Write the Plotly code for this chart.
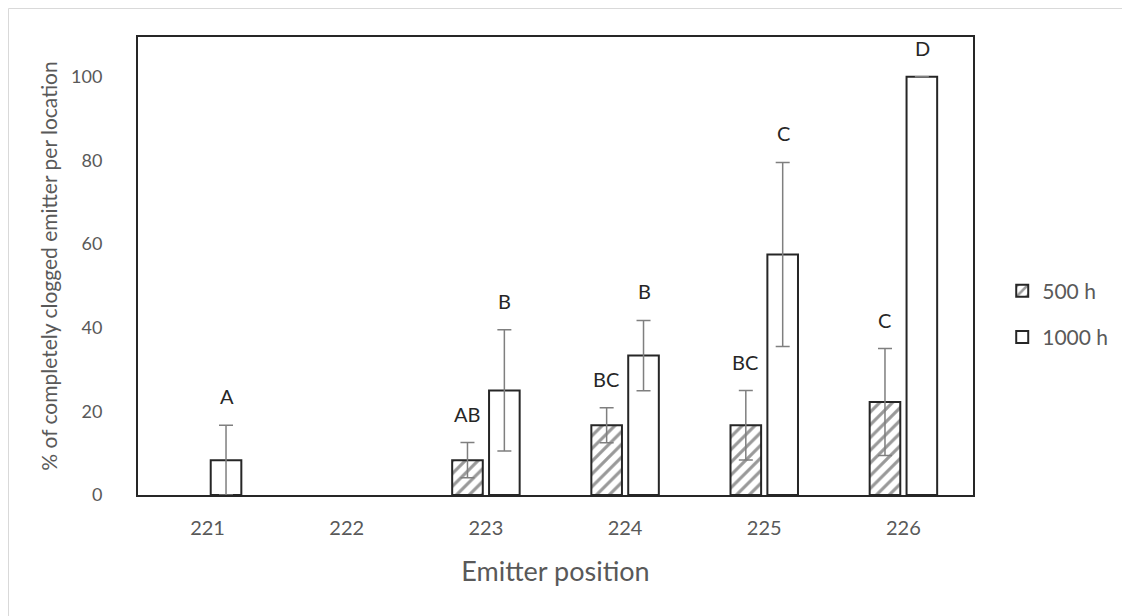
import plotly.graph_objects as go

categories = ["221", "222", "223", "224", "225", "226"]
vals_500 = [None, None, 8.33, 16.67, 16.67, 22.22]
err_500 = [None, None, 4.2, 4.2, 8.3, 12.8]
vals_1000 = [8.33, None, 25.0, 33.33, 57.5, 100.0]
err_1000 = [8.33, None, 14.5, 8.4, 22.0, 0.0]
letters_500 = [None, None, "AB", "BC", "BC", "C"]
letters_1000 = ["A", None, "B", "B", "C", "D"]
series_names = ["500 h", "1000 h"]
y_title = "% of completely clogged emitter per location"
x_title = "Emitter position"
y_ticks = [0, 20, 40, 60, 80, 100]

FONT = "Lato, 'Open Sans', sans-serif"
GRAY = "#595959"
ERR = dict(type="data", visible=True, color="#7f7f7f", thickness=1.5, width=7)

fig = go.Figure()
fig.add_trace(go.Bar(
    x=categories, y=vals_500, name=series_names[0], legendgroup="a",
    error_y=dict(array=err_500, **ERR),
    marker=dict(color="white", line=dict(color="#262626", width=2),
                pattern=dict(shape="/", fgcolor="#333333", bgcolor="white",
                             size=9, solidity=0.35)),
))
fig.add_trace(go.Bar(
    x=categories, y=vals_1000, name=series_names[1], legendgroup="b",
    error_y=dict(array=err_1000, **ERR),
    marker=dict(color="white", line=dict(color="#262626", width=2)),
))

annotations = []
for letters, vals, errs, shift in [(letters_500, vals_500, err_500, -19),
                                   (letters_1000, vals_1000, err_1000, 19)]:
    for i, (t, v, e) in enumerate(zip(letters, vals, errs)):
        if t is None:
            continue
        annotations.append(dict(
            x=i, y=v + (e or 0), xref="x", yref="y", text=t, showarrow=False,
            xshift=shift, yshift=15, yanchor="bottom",
            font=dict(family=FONT, size=20, color="#262626"),
        ))

W, H = 1130, 616
L, R, T, B = 130, 165, 29, 129
pw, ph = W - L - R, H - T - B
fig.add_shape(type="rect", xref="paper", yref="paper",
              x0=(0.5 - L) / pw, x1=(W + 5 - L) / pw,
              y0=-(B + 5) / ph, y1=(H - B - 0.5) / ph,
              line=dict(color="#d9d9d9", width=1), layer="below")

fig.update_layout(
    width=W, height=H,
    margin=dict(l=L, r=R, t=T, b=B),
    paper_bgcolor="white", plot_bgcolor="white",
    barmode="group", bargap=0.47, bargroupgap=0.17,
    font=dict(family=FONT, color=GRAY),
    annotations=annotations,
    legend=dict(x=1.035, y=0.49, xanchor="left", yanchor="top",
                font=dict(family=FONT, size=21, color=GRAY),
                tracegroupgap=16, itemwidth=30,
                bgcolor="rgba(0,0,0,0)"),
    xaxis=dict(
        type="category", range=[-0.5, len(categories) - 0.5], autorange=False,
        showline=True, mirror=True, linecolor="#262626", linewidth=2,
        ticks="", ticklabelstandoff=14,
        tickfont=dict(family=FONT, size=20, color=GRAY),
        title=dict(text=x_title, font=dict(family=FONT, size=27, color=GRAY), standoff=24),
    ),
    yaxis=dict(
        range=[0, 109.5], tickvals=y_ticks, showgrid=False, zeroline=False,
        showline=True, mirror=True, linecolor="#262626", linewidth=2,
        ticks="", ticklabelstandoff=30,
        tickfont=dict(family=FONT, size=18, color=GRAY),
        title=dict(text=y_title, font=dict(family=FONT, size=21, color=GRAY), standoff=8),
    ),
)

fig.write_html("out.html")
